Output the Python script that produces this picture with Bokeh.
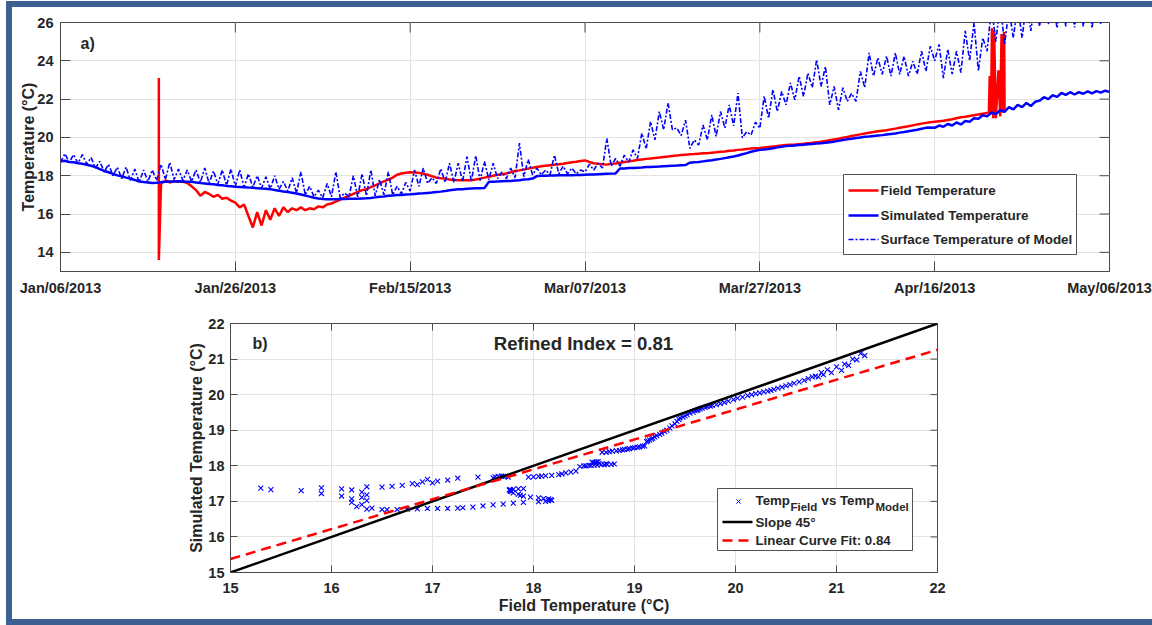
import numpy as np
from bokeh.plotting import figure
from bokeh.layouts import column, row
from bokeh.models import Range1d, FixedTicker, DatetimeTickFormatter, Spacer
from bokeh.embed import file_html
from bokeh.resources import INLINE
from bokeh.core.properties import value

nan = float("nan")

# ---------------------------------------------------------------- data
START = "2013-01-06"          # first sample
STEP_DAYS = 0.5               # spacing of the sampled series (days)

# Simulated (model) temperature, degC, every 12 h from Jan/06/2013 to May/06/2013
sim_temp = [
    18.75, 18.78, 18.72, 18.70, 18.65, 18.62, 18.57, 18.52, 18.45, 18.35,
    18.25, 18.18, 18.10, 18.02, 17.97, 17.90, 17.85, 17.78, 17.70, 17.67,
    17.65, 17.62, 17.63, 17.66, 17.68, 17.70, 17.70, 17.71, 17.70, 17.69,
    17.68, 17.65, 17.62, 17.60, 17.57, 17.55, 17.52, 17.50, 17.47, 17.45,
    17.42, 17.41, 17.40, 17.38, 17.37, 17.35, 17.33, 17.32, 17.30, 17.26,
    17.22, 17.18, 17.15, 17.11, 17.07, 17.02, 16.97, 16.91, 16.85, 16.81,
    16.78, 16.77, 16.77, 16.77, 16.78, 16.79, 16.80, 16.80, 16.80, 16.81,
    16.82, 16.84, 16.87, 16.90, 16.92, 16.95, 16.97, 16.99, 17.00, 17.02,
    17.03, 17.05, 17.07, 17.08, 17.10, 17.12, 17.15, 17.17, 17.20, 17.24,
    17.27, 17.29, 17.30, 17.32, 17.33, 17.34, 17.35, 17.36, 17.68, 17.69,
    17.70, 17.71, 17.72, 17.73, 17.75, 17.77, 17.80, 17.82, 17.85, 17.98,
    18.00, 18.00, 18.01, 18.01, 18.02, 18.02, 18.03, 18.03, 18.04, 18.04,
    18.05, 18.06, 18.07, 18.08, 18.09, 18.10, 18.11, 18.12, 18.38, 18.38,
    18.40, 18.41, 18.42, 18.43, 18.45, 18.46, 18.47, 18.48, 18.50, 18.51,
    18.52, 18.53, 18.55, 18.56, 18.68, 18.70, 18.72, 18.75, 18.78, 18.81,
    18.85, 18.88, 18.92, 18.96, 19.00, 19.06, 19.12, 19.18, 19.25, 19.30,
    19.35, 19.37, 19.40, 19.44, 19.48, 19.51, 19.55, 19.56, 19.58, 19.60,
    19.62, 19.64, 19.66, 19.68, 19.70, 19.72, 19.75, 19.78, 19.82, 19.86,
    19.90, 19.93, 19.97, 20.00, 20.03, 20.05, 20.08, 20.10, 20.12, 20.15,
    20.18, 20.21, 20.25, 20.28, 20.32, 20.36, 20.40, 20.45, 20.50, 20.52,
    20.50, 20.62, 20.56, 20.70, 20.62, 20.78, 20.68, 20.86, 20.82, 21.00,
    20.98, 21.16, 21.10, 21.30, 21.22, 21.42, 21.34, 21.58, 21.46, 21.70,
    21.58, 21.80, 21.64, 21.86, 21.92, 22.10, 22.00, 22.20, 22.12, 22.32,
    22.22, 22.36, 22.24, 22.36, 22.28, 22.40, 22.30, 22.42, 22.34, 22.44,
    22.38,
]

# Field (measured) temperature, degC, same 12 h grid (nan = no record)
field_temp = [
    nan, nan, nan, nan, nan, nan, nan, nan, nan, nan,
    nan, nan, nan, nan, nan, nan, nan, nan, nan, nan,
    nan, nan, nan, 17.60, 17.75, 17.65, 17.72, 17.68, 17.70, 17.62,
    17.45, 17.25, 16.95, 17.15, 17.05, 16.90, 17.00, 16.80, 16.85, 16.70,
    16.60, 16.35, 16.50, 15.90, 15.30, 16.10, 15.40, 16.20, 15.70, 16.30,
    15.90, 16.35, 16.10, 16.30, 16.20, 16.35, 16.20, 16.30, 16.25, 16.40,
    16.35, 16.50, 16.55, 16.65, 16.75, 16.85, 16.95, 17.05, 17.15, 17.25,
    17.30, 17.40, 17.50, 17.60, 17.70, 17.80, 17.90, 18.05, 18.12, 18.15,
    18.18, 18.17, 18.15, 18.10, 18.05, 17.97, 17.90, 17.87, 17.85, 17.80,
    17.78, 17.77, 17.77, 17.76, 17.77, 17.80, 17.85, 17.90, 17.95, 18.00,
    18.05, 18.08, 18.12, 18.18, 18.25, 18.28, 18.32, 18.37, 18.42, 18.46,
    18.50, 18.52, 18.55, 18.57, 18.60, 18.63, 18.67, 18.70, 18.73, 18.77,
    18.80, 18.72, 18.65, 18.62, 18.60, 18.58, 18.62, 18.64, 18.68, 18.72,
    18.75, 18.78, 18.82, 18.85, 18.88, 18.90, 18.93, 18.95, 18.98, 19.00,
    19.03, 19.05, 19.08, 19.10, 19.12, 19.13, 19.15, 19.17, 19.18, 19.20,
    19.22, 19.25, 19.27, 19.30, 19.32, 19.35, 19.37, 19.40, 19.42, 19.44,
    19.45, 19.48, 19.50, 19.52, 19.55, 19.58, 19.60, 19.62, 19.63, 19.65,
    19.67, 19.70, 19.72, 19.75, 19.77, 19.81, 19.85, 19.89, 19.93, 19.98,
    20.02, 20.07, 20.12, 20.16, 20.20, 20.24, 20.28, 20.32, 20.35, 20.38,
    20.42, 20.46, 20.50, 20.54, 20.58, 20.63, 20.68, 20.72, 20.76, 20.79,
    20.82, 20.85, 20.87, 20.91, 20.95, 21.00, 21.05, 21.08, 21.12, 21.16,
    21.20, 21.24, 21.28, nan, nan, nan, nan, nan, nan, nan,
    nan, nan, nan, nan, nan, nan, nan, nan, nan, nan,
    nan, nan, nan, nan, nan, nan, nan, nan, nan, nan,
    nan,
]

# Short sensor spikes of the field record (day since start, degC)
spike_day = [11.25, 11.25, 11.5, nan,
             106.0, 106.2, 106.3, 106.45, 106.55, 106.7, 106.8, 107.0,
             107.3, 107.5, 107.65, 107.8, 107.95, 108.0]
spike_temp = [23.1, 13.6, 17.6, nan,
              21.28, 21.3, 23.2, 21.2, 25.7, 21.0, 25.6, 21.0,
              23.5, 21.1, 25.4, 21.3, 25.5, 21.3]

# Surface temperature of the model, degC, same 12 h grid
surface_temp = [
    18.70, 19.15, 18.70, 19.10, 18.65, 19.10, 18.60, 18.95, 18.40, 18.75,
    18.20, 18.60, 18.00, 18.45, 17.85, 18.45, 17.75, 18.35, 17.65, 18.30,
    17.70, 18.30, 17.75, 18.60, 17.80, 18.70, 17.80, 18.35, 17.75, 18.30,
    17.70, 18.30, 17.65, 18.40, 17.60, 18.25, 17.55, 18.30, 17.50, 18.35,
    17.45, 18.30, 17.40, 18.10, 17.40, 18.00, 17.35, 17.95, 17.30, 18.00,
    17.30, 17.70, 17.20, 17.90, 17.10, 18.20, 17.00, 17.45, 16.90, 17.25,
    16.85, 17.60, 16.90, 18.20, 16.85, 17.10, 16.90, 18.00, 16.90, 18.10,
    16.95, 18.30, 16.95, 17.80, 17.00, 18.20, 17.00, 17.45, 17.05, 17.65,
    17.20, 18.30, 17.45, 18.40, 17.60, 17.90, 17.60, 18.37, 17.65, 18.65,
    17.65, 18.65, 17.70, 19.00, 17.70, 19.05, 17.75, 18.75, 17.80, 18.65,
    17.85, 18.20, 17.85, 18.40, 17.90, 19.70, 17.95, 18.85, 18.05, 18.40,
    18.05, 18.30, 18.05, 19.08, 18.10, 18.50, 18.10, 18.40, 18.10, 18.30,
    18.20, 18.60, 18.30, 18.65, 18.40, 19.95, 18.50, 18.90, 18.50, 19.08,
    18.70, 19.35, 18.90, 20.22, 19.40, 20.83, 19.87, 21.35, 20.40, 21.80,
    20.40, 20.50, 20.10, 20.90, 19.43, 19.87, 19.60, 20.65, 19.87, 21.18,
    20.05, 21.35, 20.50, 21.70, 20.60, 22.31, 19.98, 20.30, 20.13, 20.80,
    20.48, 22.15, 21.00, 22.50, 21.35, 22.40, 21.70, 22.85, 21.96, 23.20,
    22.14, 23.36, 22.60, 24.06, 22.66, 23.70, 21.70, 22.66, 21.44, 22.60,
    21.88, 22.30, 21.88, 23.45, 22.60, 24.41, 23.20, 24.15, 23.30, 24.24,
    23.20, 24.41, 23.30, 24.24, 23.20, 23.97, 23.30, 24.50, 23.45, 24.76,
    24.00, 24.86, 23.10, 24.60, 23.30, 24.50, 23.38, 25.56, 24.00, 26.00,
    23.47, 25.20, 24.50, 26.80, 25.00, 27.00, 24.86, 26.70, 25.20, 26.90,
    25.20, 27.00, 25.56, 27.20, 25.80, 27.30, 25.90, 27.20, 25.70, 27.40,
    25.80, 27.30, 25.75, 27.40, 25.80, 27.30, 25.70, 27.50, 25.90, 27.50,
    26.00,
]

tick_dates = ["2013-01-06", "2013-01-26", "2013-02-15", "2013-03-07",
              "2013-03-27", "2013-04-16", "2013-05-06"]
temp_ticks_a = [14, 16, 18, 20, 22, 24, 26]
temp_ticks_b = [15, 16, 17, 18, 19, 20, 21, 22]

fit_slope = 0.84
fit_intercept = 2.78
refined_index = 0.81

series_labels = ["Field Temperature", "Simulated Temperature",
                 "Surface Temperature of Model"]

# ---------------------------------------------------------------- style
FONT = "Liberation Sans"
TXT = "#262626"
AX = "#4a4a4a"
GRID = "#e2e2e2"
RED = "#ff0000"
BLUE = "#0000ff"
FRAME = "#3c6191"
DASHDOT = "5 2 2 2"
DAY_MS = 86400000.0

t0 = float(np.datetime64(START, "ms").astype("int64"))
t_end = t0 + 120 * DAY_MS
days = np.arange(len(sim_temp)) * STEP_DAYS
t = t0 + days * DAY_MS
sim = np.array(sim_temp, dtype=float)
field = np.array(field_temp, dtype=float)
surf = np.array(surface_temp, dtype=float)
spike_t = t0 + np.array(spike_day, dtype=float) * DAY_MS
tick_ms = [float(np.datetime64(d, "ms").astype("int64")) for d in tick_dates]


def style_axes(p, tick_len, xstand, ystand):
    for ax in (p.xaxis[0], p.yaxis[0]):
        ax.major_label_text_font = FONT
        ax.major_label_text_font_size = "14.5px"
        ax.major_label_text_font_style = "bold"
        ax.major_label_text_color = TXT
        ax.axis_label_text_font = FONT
        ax.axis_label_text_font_size = "16px"
        ax.axis_label_text_font_style = "bold"
        ax.axis_label_text_color = TXT
        ax.axis_line_color = AX
        ax.major_tick_line_color = AX
        ax.major_tick_in = tick_len
        ax.major_tick_out = 0
        ax.minor_tick_line_color = None
    p.xaxis[0].major_label_standoff = xstand
    p.yaxis[0].major_label_standoff = ystand
    p.grid.grid_line_color = GRID
    p.outline_line_color = AX
    p.background_fill_color = "white"
    p.border_fill_color = "white"


def txt(p, x, y, s, size, align="left"):
    p.text(x=[x], y=[y], text=[s], text_font=value(FONT), text_font_size=size,
           text_font_style="bold", text_color=TXT, text_align=align,
           text_baseline="middle")


# ---------------------------------------------------------------- panel a
FX1, FY1, FW1, FH1 = 60, 22, 1049, 249
YA0, YA1 = 13, 26
pa = figure(width=1140, height=293, x_axis_type="datetime",
            x_range=Range1d(t0, t_end), y_range=Range1d(YA0, YA1),
            output_backend="svg", toolbar_location=None,
            min_border_left=48, min_border_right=43,
            min_border_top=15, min_border_bottom=29)
pa.xaxis.ticker = FixedTicker(ticks=tick_ms)
pa.xaxis.formatter = DatetimeTickFormatter(
    milliseconds="%b/%d/%Y", seconds="%b/%d/%Y", minsec="%b/%d/%Y",
    minutes="%b/%d/%Y", hourmin="%b/%d/%Y", hours="%b/%d/%Y",
    days="%b/%d/%Y", months="%b/%d/%Y", years="%b/%d/%Y")
pa.yaxis.ticker = FixedTicker(ticks=temp_ticks_a)
pa.yaxis.axis_label = "Temperature (°C)"
pa.yaxis.axis_label_standoff = -3
style_axes(pa, 10, 8, 7)


def pa_xy(px, py):
    return (t0 + (px - FX1) / FW1 * (t_end - t0), YA1 - (py - FY1) / FH1 * (YA1 - YA0))


# inward ticks on top / right edges
tl_x = 10 / FW1 * (t_end - t0)
tl_y = 10 / FH1 * (YA1 - YA0)
pa.segment(x0=tick_ms, x1=tick_ms, y0=[YA1] * len(tick_ms), y1=[YA1 - tl_y] * len(tick_ms),
           line_color=AX, line_width=1)
pa.segment(x0=[t_end] * len(temp_ticks_a), x1=[t_end - tl_x] * len(temp_ticks_a),
           y0=temp_ticks_a, y1=temp_ticks_a, line_color=AX, line_width=1)

pa.line(t, field, line_color=RED, line_width=2.5)
pa.line(spike_t, spike_temp, line_color=RED, line_width=2.5)
pa.line(t, sim, line_color=BLUE, line_width=2.5)
pa.line(t, surf, line_color=BLUE, line_width=1.6, line_dash=DASHDOT)

lx0, ly0 = pa_xy(843, 174)
lx1, ly1 = pa_xy(1076, 254)
pa.quad(left=[lx0], right=[lx1], top=[ly0], bottom=[ly1], fill_color="white",
        line_color=TXT, line_width=0.8)
row_y = [190, 215, 239]
styles_a = [dict(line_color=RED, line_width=2.5),
            dict(line_color=BLUE, line_width=2.5),
            dict(line_color=BLUE, line_width=1.6, line_dash=DASHDOT)]
for ry, lab, st in zip(row_y, series_labels, styles_a):
    xa, ya = pa_xy(848, ry)
    xb, _ = pa_xy(878, ry)
    pa.line([xa, xb], [ya, ya], **st)
    xt, _ = pa_xy(880, ry)
    txt(pa, xt, ya, lab, "13.4px")

xa_, ya_ = pa_xy(80, 43)
txt(pa, xa_, ya_, "a)", "16px")

# ---------------------------------------------------------------- panel b
FX2, FY2, FW2, FH2 = 230, 323, 707, 249
B0, B1 = 15, 22
LEFT_GAP, RIGHT_GAP = 170, 172
pb = figure(width=1140 - LEFT_GAP - RIGHT_GAP, height=319,
            x_range=Range1d(B0, B1), y_range=Range1d(B0, B1),
            output_backend="svg", toolbar_location=None,
            min_border_left=48, min_border_right=43,
            min_border_top=23, min_border_bottom=47)
pb.xaxis.ticker = FixedTicker(ticks=temp_ticks_b)
pb.yaxis.ticker = FixedTicker(ticks=temp_ticks_b)
pb.xaxis.axis_label = "Field Temperature (°C)"
pb.yaxis.axis_label = "Simulated Temperature (°C)"
pb.xaxis.axis_label_standoff = 1
pb.yaxis.axis_label_standoff = 0
style_axes(pb, 7, 10, 6)


def pb_xy(px, py):
    return (B0 + (px - FX2) / FW2 * (B1 - B0), B1 - (py - FY2) / FH2 * (B1 - B0))


bl_x = 7 / FW2 * (B1 - B0)
bl_y = 7 / FH2 * (B1 - B0)
nb = len(temp_ticks_b)
pb.segment(x0=temp_ticks_b, x1=temp_ticks_b, y0=[B1] * nb, y1=[B1 - bl_y] * nb,
           line_color=AX, line_width=1)
pb.segment(x0=[B1] * nb, x1=[B1 - bl_x] * nb, y0=temp_ticks_b, y1=temp_ticks_b,
           line_color=AX, line_width=1)

ok = ~np.isnan(field)
pb.scatter(field[ok], sim[ok], marker="x", size=7, line_color=BLUE, line_width=1.1)
pb.line([B0, B1], [B0, B1], line_color="black", line_width=2.5)
pb.line([B0, B1], [fit_intercept + fit_slope * B0, fit_intercept + fit_slope * B1],
        line_color=RED, line_width=2.5, line_dash="10 6")

bx0, by0 = pb_xy(717, 488)
bx1, by1 = pb_xy(912, 550)
pb.quad(left=[bx0], right=[bx1], top=[by0], bottom=[by1], fill_color="white",
        line_color=TXT, line_width=0.8)
mx, my = pb_xy(738, 501)
pb.scatter([mx], [my], marker="x", size=6, line_color=BLUE, line_width=1)
x_, y_ = pb_xy(755, 500)
txt(pb, x_, y_, "Temp", "13.3px")
x_, y_ = pb_xy(790, 506)
txt(pb, x_, y_, "Field", "11.5px")
x_, y_ = pb_xy(821, 500)
txt(pb, x_, y_, "vs Temp", "13.3px")
x_, y_ = pb_xy(875, 506)
txt(pb, x_, y_, "Model", "11.5px")
xa, ya = pb_xy(722, 521.5)
xb, _ = pb_xy(752, 521.5)
pb.line([xa, xb], [ya, ya], line_color="black", line_width=2.5)
x_, _ = pb_xy(755, 521.5)
txt(pb, x_, ya, "Slope 45°", "13.3px")
xa, ya = pb_xy(722, 540)
xb, _ = pb_xy(752, 540)
pb.line([xa, xb], [ya, ya], line_color=RED, line_width=2.5, line_dash="10 6")
x_, _ = pb_xy(755, 540)
txt(pb, x_, ya, f"Linear Curve Fit: {fit_slope:.2f}", "13.3px")

x_, y_ = pb_xy(252, 343)
txt(pb, x_, y_, "b)", "16px")
x_, y_ = pb_xy(583, 343)
txt(pb, x_, y_, f"Refined Index = {refined_index:.2f}", "18.6px", align="center")

bottom_row = row(Spacer(width=LEFT_GAP, height=319), pb,
                 Spacer(width=RIGHT_GAP, height=319))

root = column(pa, bottom_row, styles={"border-left": f"6px solid {FRAME}",
                                      "border-top": f"6px solid {FRAME}",
                                      "border-bottom": f"6px solid {FRAME}",
                                      "margin-left": "6px", "margin-top": "1px",
                                      "background-color": "white"})

with open("out.html", "w") as f:
    f.write(file_html(root, INLINE))
